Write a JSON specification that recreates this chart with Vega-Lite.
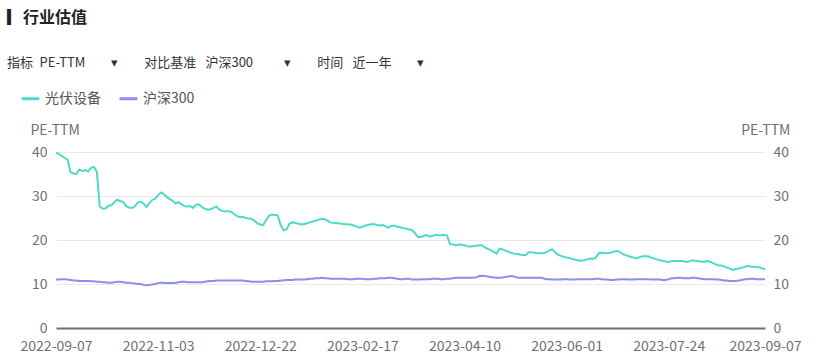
{
  "$schema": "https://vega.github.io/schema/vega-lite/v6.json",
  "width": 709,
  "height": 176,
  "autosize": {"type": "none"},
  "padding": {"left": 56, "top": 152, "right": 54, "bottom": 31},
  "background": "white",
  "config": {
    "font": "Noto Sans CJK SC",
    "view": {"stroke": null}
  },
  "title": {
    "text": "▎行业估值",
    "subtitle": "指标\u2002PE-TTM\u2003\u2003▾\u2003\u2003对比基准\u2002\u2009沪深300\u2003\u2003\u2009\u2009▾\u2003\u2003时间\u2002\u2009近一年\u2003\u2003▾",
    "anchor": "start",
    "frame": "group",
    "dx": -49,
    "offset": 18,
    "fontSize": 16,
    "fontWeight": "bold",
    "color": "#222222",
    "subtitleFontSize": 13,
    "subtitleColor": "#333333",
    "subtitlePadding": 31
  },
  "data": {
    "values": [
      {"d":"2022-09-07","a":39.9,"b":11.0},{"d":"2022-09-08","a":39.5,"b":11.0},{"d":"2022-09-09","a":39.1,"b":11.1},{"d":"2022-09-13","a":38.7,"b":11.1},{"d":"2022-09-14","a":38.2,"b":11.0},{"d":"2022-09-15","a":35.4,"b":10.9},{"d":"2022-09-16","a":35.1,"b":10.8},{"d":"2022-09-19","a":35.0,"b":10.8},{"d":"2022-09-20","a":36.0,"b":10.7},{"d":"2022-09-21","a":35.7,"b":10.7},
      {"d":"2022-09-22","a":35.9,"b":10.7},{"d":"2022-09-23","a":35.6,"b":10.7},{"d":"2022-09-26","a":36.4,"b":10.6},{"d":"2022-09-27","a":36.6,"b":10.6},{"d":"2022-09-28","a":35.5,"b":10.5},{"d":"2022-09-29","a":27.6,"b":10.5},{"d":"2022-09-30","a":27.1,"b":10.4},{"d":"2022-10-10","a":27.2,"b":10.4},{"d":"2022-10-11","a":27.8,"b":10.3},{"d":"2022-10-12","a":27.9,"b":10.3},
      {"d":"2022-10-13","a":28.6,"b":10.4},{"d":"2022-10-14","a":29.2,"b":10.5},{"d":"2022-10-17","a":28.8,"b":10.5},{"d":"2022-10-18","a":28.7,"b":10.4},{"d":"2022-10-19","a":27.7,"b":10.3},{"d":"2022-10-20","a":27.4,"b":10.3},{"d":"2022-10-21","a":27.3,"b":10.2},{"d":"2022-10-24","a":27.6,"b":10.1},{"d":"2022-10-25","a":28.5,"b":10.0},{"d":"2022-10-26","a":28.7,"b":10.0},
      {"d":"2022-10-27","a":28.3,"b":9.8},{"d":"2022-10-28","a":27.5,"b":9.7},{"d":"2022-10-31","a":28.4,"b":9.8},{"d":"2022-11-01","a":29.1,"b":9.9},{"d":"2022-11-02","a":29.4,"b":10.0},{"d":"2022-11-03","a":30.2,"b":10.2},{"d":"2022-11-04","a":30.8,"b":10.3},{"d":"2022-11-07","a":30.4,"b":10.3},{"d":"2022-11-08","a":29.8,"b":10.2},{"d":"2022-11-09","a":29.3,"b":10.2},
      {"d":"2022-11-10","a":28.9,"b":10.2},{"d":"2022-11-11","a":28.3,"b":10.3},{"d":"2022-11-14","a":28.6,"b":10.4},{"d":"2022-11-15","a":28.1,"b":10.5},{"d":"2022-11-16","a":27.7,"b":10.5},{"d":"2022-11-17","a":27.6,"b":10.4},{"d":"2022-11-18","a":27.7,"b":10.4},{"d":"2022-11-21","a":27.3,"b":10.4},{"d":"2022-11-22","a":28.0,"b":10.4},{"d":"2022-11-23","a":28.1,"b":10.4},
      {"d":"2022-11-24","a":27.5,"b":10.4},{"d":"2022-11-25","a":27.1,"b":10.5},{"d":"2022-11-28","a":26.9,"b":10.6},{"d":"2022-11-29","a":27.0,"b":10.7},{"d":"2022-11-30","a":27.3,"b":10.7},{"d":"2022-12-01","a":27.6,"b":10.8},{"d":"2022-12-02","a":26.9,"b":10.8},{"d":"2022-12-05","a":26.6,"b":10.8},{"d":"2022-12-06","a":26.5,"b":10.8},{"d":"2022-12-07","a":26.6,"b":10.8},
      {"d":"2022-12-08","a":26.4,"b":10.8},{"d":"2022-12-09","a":25.9,"b":10.8},{"d":"2022-12-12","a":25.5,"b":10.8},{"d":"2022-12-13","a":25.2,"b":10.8},{"d":"2022-12-14","a":25.3,"b":10.8},{"d":"2022-12-15","a":25.0,"b":10.7},{"d":"2022-12-16","a":24.9,"b":10.6},{"d":"2022-12-19","a":24.8,"b":10.5},{"d":"2022-12-20","a":24.4,"b":10.5},{"d":"2022-12-21","a":23.8,"b":10.5},
      {"d":"2022-12-22","a":23.5,"b":10.5},{"d":"2022-12-23","a":23.4,"b":10.5},{"d":"2022-12-26","a":24.5,"b":10.6},{"d":"2022-12-27","a":25.5,"b":10.6},{"d":"2022-12-28","a":25.8,"b":10.6},{"d":"2022-12-29","a":25.7,"b":10.7},{"d":"2022-12-30","a":25.6,"b":10.7},{"d":"2023-01-03","a":23.4,"b":10.8},{"d":"2023-01-04","a":22.2,"b":10.8},{"d":"2023-01-05","a":22.4,"b":10.9},
      {"d":"2023-01-06","a":23.7,"b":10.9},{"d":"2023-01-09","a":24.0,"b":10.9},{"d":"2023-01-10","a":23.9,"b":11.0},{"d":"2023-01-11","a":23.7,"b":11.0},{"d":"2023-01-12","a":23.6,"b":11.0},{"d":"2023-01-13","a":23.6,"b":11.0},{"d":"2023-01-16","a":23.8,"b":11.1},{"d":"2023-01-17","a":24.0,"b":11.2},{"d":"2023-01-18","a":24.2,"b":11.2},{"d":"2023-01-19","a":24.4,"b":11.3},
      {"d":"2023-01-20","a":24.6,"b":11.3},{"d":"2023-01-30","a":24.8,"b":11.4},{"d":"2023-01-31","a":24.8,"b":11.3},{"d":"2023-02-01","a":24.4,"b":11.3},{"d":"2023-02-02","a":24.0,"b":11.2},{"d":"2023-02-03","a":23.9,"b":11.2},{"d":"2023-02-06","a":23.8,"b":11.2},{"d":"2023-02-07","a":23.8,"b":11.2},{"d":"2023-02-08","a":23.7,"b":11.2},{"d":"2023-02-09","a":23.6,"b":11.2},
      {"d":"2023-02-10","a":23.6,"b":11.1},{"d":"2023-02-13","a":23.5,"b":11.1},{"d":"2023-02-14","a":23.3,"b":11.1},{"d":"2023-02-15","a":23.1,"b":11.2},{"d":"2023-02-16","a":22.8,"b":11.2},{"d":"2023-02-17","a":23.0,"b":11.2},{"d":"2023-02-20","a":23.3,"b":11.1},{"d":"2023-02-21","a":23.4,"b":11.1},{"d":"2023-02-22","a":23.6,"b":11.1},{"d":"2023-02-23","a":23.6,"b":11.2},
      {"d":"2023-02-24","a":23.4,"b":11.2},{"d":"2023-02-27","a":23.3,"b":11.3},{"d":"2023-02-28","a":23.4,"b":11.3},{"d":"2023-03-01","a":23.1,"b":11.3},{"d":"2023-03-02","a":22.8,"b":11.4},{"d":"2023-03-03","a":23.2,"b":11.4},{"d":"2023-03-06","a":23.3,"b":11.3},{"d":"2023-03-07","a":23.0,"b":11.2},{"d":"2023-03-08","a":22.9,"b":11.1},{"d":"2023-03-09","a":22.7,"b":11.1},
      {"d":"2023-03-10","a":22.6,"b":11.2},{"d":"2023-03-13","a":22.4,"b":11.2},{"d":"2023-03-14","a":22.3,"b":11.0},{"d":"2023-03-15","a":21.6,"b":11.0},{"d":"2023-03-16","a":20.7,"b":11.0},{"d":"2023-03-17","a":20.7,"b":11.0},{"d":"2023-03-20","a":20.9,"b":11.1},{"d":"2023-03-21","a":21.1,"b":11.1},{"d":"2023-03-22","a":20.8,"b":11.1},{"d":"2023-03-23","a":20.9,"b":11.2},
      {"d":"2023-03-24","a":21.2,"b":11.2},{"d":"2023-03-27","a":21.1,"b":11.2},{"d":"2023-03-28","a":21.1,"b":11.1},{"d":"2023-03-29","a":21.2,"b":11.1},{"d":"2023-03-30","a":21.0,"b":11.2},{"d":"2023-03-31","a":19.1,"b":11.2},{"d":"2023-04-03","a":19.0,"b":11.3},{"d":"2023-04-04","a":18.8,"b":11.4},{"d":"2023-04-06","a":18.9,"b":11.4},{"d":"2023-04-07","a":19.0,"b":11.4},
      {"d":"2023-04-10","a":18.8,"b":11.4},{"d":"2023-04-11","a":18.6,"b":11.4},{"d":"2023-04-12","a":18.5,"b":11.4},{"d":"2023-04-13","a":18.6,"b":11.4},{"d":"2023-04-14","a":18.7,"b":11.5},{"d":"2023-04-17","a":18.8,"b":11.8},{"d":"2023-04-18","a":18.8,"b":11.9},{"d":"2023-04-19","a":18.3,"b":11.8},{"d":"2023-04-20","a":18.0,"b":11.7},{"d":"2023-04-21","a":17.7,"b":11.6},
      {"d":"2023-04-24","a":17.3,"b":11.5},{"d":"2023-04-25","a":16.9,"b":11.4},{"d":"2023-04-26","a":18.0,"b":11.4},{"d":"2023-04-27","a":17.9,"b":11.5},{"d":"2023-04-28","a":17.6,"b":11.6},{"d":"2023-05-04","a":17.3,"b":11.7},{"d":"2023-05-05","a":17.1,"b":11.8},{"d":"2023-05-08","a":16.9,"b":11.7},{"d":"2023-05-09","a":16.8,"b":11.5},{"d":"2023-05-10","a":16.7,"b":11.4},
      {"d":"2023-05-11","a":16.6,"b":11.4},{"d":"2023-05-12","a":16.6,"b":11.4},{"d":"2023-05-15","a":17.2,"b":11.4},{"d":"2023-05-16","a":17.2,"b":11.4},{"d":"2023-05-17","a":17.1,"b":11.4},{"d":"2023-05-18","a":17.0,"b":11.4},{"d":"2023-05-19","a":17.0,"b":11.4},{"d":"2023-05-22","a":17.0,"b":11.3},{"d":"2023-05-23","a":17.2,"b":11.1},{"d":"2023-05-24","a":17.6,"b":11.1},
      {"d":"2023-05-25","a":17.9,"b":11.0},{"d":"2023-05-26","a":17.2,"b":11.0},{"d":"2023-05-29","a":16.7,"b":11.0},{"d":"2023-05-30","a":16.4,"b":11.0},{"d":"2023-05-31","a":16.2,"b":11.1},{"d":"2023-06-01","a":16.0,"b":11.1},{"d":"2023-06-02","a":15.9,"b":11.0},{"d":"2023-06-05","a":15.7,"b":11.0},{"d":"2023-06-06","a":15.5,"b":11.0},{"d":"2023-06-07","a":15.4,"b":11.1},
      {"d":"2023-06-08","a":15.3,"b":11.1},{"d":"2023-06-09","a":15.4,"b":11.1},{"d":"2023-06-12","a":15.6,"b":11.1},{"d":"2023-06-13","a":15.8,"b":11.1},{"d":"2023-06-14","a":15.7,"b":11.1},{"d":"2023-06-15","a":16.0,"b":11.2},{"d":"2023-06-16","a":17.0,"b":11.2},{"d":"2023-06-19","a":17.1,"b":11.1},{"d":"2023-06-20","a":17.1,"b":11.0},{"d":"2023-06-21","a":17.0,"b":11.0},
      {"d":"2023-06-26","a":17.1,"b":10.9},{"d":"2023-06-27","a":17.3,"b":10.9},{"d":"2023-06-28","a":17.5,"b":11.0},{"d":"2023-06-29","a":17.4,"b":11.0},{"d":"2023-06-30","a":16.9,"b":11.1},{"d":"2023-07-03","a":16.6,"b":11.1},{"d":"2023-07-04","a":16.4,"b":11.0},{"d":"2023-07-05","a":16.2,"b":11.0},{"d":"2023-07-06","a":16.0,"b":11.0},{"d":"2023-07-07","a":15.8,"b":11.1},
      {"d":"2023-07-10","a":16.1,"b":11.1},{"d":"2023-07-11","a":16.3,"b":11.1},{"d":"2023-07-12","a":16.3,"b":11.1},{"d":"2023-07-13","a":16.3,"b":11.1},{"d":"2023-07-14","a":16.0,"b":11.0},{"d":"2023-07-17","a":15.8,"b":11.0},{"d":"2023-07-18","a":15.6,"b":11.0},{"d":"2023-07-19","a":15.4,"b":11.0},{"d":"2023-07-20","a":15.3,"b":10.9},{"d":"2023-07-21","a":15.1,"b":10.9},
      {"d":"2023-07-24","a":15.0,"b":11.1},{"d":"2023-07-25","a":15.2,"b":11.3},{"d":"2023-07-26","a":15.3,"b":11.3},{"d":"2023-07-27","a":15.2,"b":11.4},{"d":"2023-07-28","a":15.2,"b":11.4},{"d":"2023-07-31","a":15.2,"b":11.3},{"d":"2023-08-01","a":15.0,"b":11.3},{"d":"2023-08-02","a":15.1,"b":11.3},{"d":"2023-08-03","a":15.4,"b":11.4},{"d":"2023-08-04","a":15.3,"b":11.4},
      {"d":"2023-08-07","a":15.2,"b":11.3},{"d":"2023-08-08","a":15.1,"b":11.2},{"d":"2023-08-09","a":15.0,"b":11.1},{"d":"2023-08-10","a":15.2,"b":11.1},{"d":"2023-08-11","a":15.1,"b":11.1},{"d":"2023-08-14","a":14.8,"b":11.1},{"d":"2023-08-15","a":14.5,"b":11.0},{"d":"2023-08-16","a":14.2,"b":11.0},{"d":"2023-08-17","a":14.2,"b":10.9},{"d":"2023-08-18","a":14.0,"b":10.8},
      {"d":"2023-08-21","a":13.7,"b":10.8},{"d":"2023-08-22","a":13.5,"b":10.7},{"d":"2023-08-23","a":13.2,"b":10.7},{"d":"2023-08-24","a":13.4,"b":10.7},{"d":"2023-08-25","a":13.5,"b":10.8},{"d":"2023-08-28","a":13.7,"b":10.9},{"d":"2023-08-29","a":13.9,"b":11.1},{"d":"2023-08-30","a":14.1,"b":11.1},{"d":"2023-08-31","a":14.0,"b":11.2},{"d":"2023-09-01","a":13.9,"b":11.2},
      {"d":"2023-09-04","a":13.8,"b":11.1},{"d":"2023-09-05","a":13.8,"b":11.1},{"d":"2023-09-06","a":13.6,"b":11.1},{"d":"2023-09-07","a":13.3,"b":11.1}
    ]
  },
  "encoding": {
    "x": {
      "field": "d",
      "type": "ordinal",
      "sort": null,
      "scale": {"type": "point", "padding": 0},
      "axis": {
        "title": null,
        "values": ["2022-09-07","2022-11-03","2022-12-22","2023-02-17","2023-04-10","2023-06-01","2023-07-24","2023-09-07"],
        "labelAngle": 0,
        "labelOverlap": false,
        "labelFontSize": 14,
        "labelColor": "#6E7079",
        "labelPadding": 11,
        "ticks": false,
        "grid": false,
        "domainColor": "#6E7079",
        "domainWidth": 2
      }
    }
  },
  "layer": [
    {
      "mark": {"type": "line", "strokeWidth": 2, "interpolate": "linear"},
      "encoding": {
        "y": {
          "field": "a",
          "type": "quantitative",
          "scale": {"domain": [0, 40], "nice": false},
          "axis": {
            "orient": "left",
            "values": [0, 10, 20, 30, 40],
            "title": "PE-TTM",
            "titleAngle": 0,
            "titleAlign": "left",
            "titleBaseline": "middle",
            "titleX": -26,
            "titleY": -22,
            "titleFontSize": 14,
            "titleFontWeight": "normal",
            "titleColor": "#6E7079",
            "labelFontSize": 14,
            "labelColor": "#6E7079",
            "labelPadding": 9,
            "ticks": false,
            "domain": false,
            "grid": true,
            "gridColor": "#E9E9EE",
            "gridWidth": 1
          }
        },
        "color": {
          "datum": "光伏设备",
          "type": "nominal",
          "scale": {"domain": ["光伏设备", "沪深300"], "range": ["#4FDAC6", "#8A8DF2"]},
          "legend": {
            "title": null,
            "orient": "none",
            "direction": "horizontal",
            "legendX": -36,
            "legendY": -64,
            "symbolType": "stroke",
            "symbolStrokeWidth": 3,
            "symbolSize": 320,
            "labelFontSize": 14,
            "labelColor": "#555555",
            "columnPadding": 12
          }
        }
      }
    },
    {
      "mark": {"type": "line", "strokeWidth": 2, "interpolate": "linear"},
      "encoding": {
        "y": {
          "field": "b",
          "type": "quantitative",
          "scale": {"domain": [0, 40], "nice": false},
          "axis": {
            "orient": "right",
            "values": [0, 10, 20, 30, 40],
            "title": "PE-TTM",
            "titleAngle": 0,
            "titleAlign": "right",
            "titleBaseline": "middle",
            "titleX": 25,
            "titleY": -22,
            "titleFontSize": 14,
            "titleFontWeight": "normal",
            "titleColor": "#6E7079",
            "labelFontSize": 14,
            "labelColor": "#6E7079",
            "labelPadding": 8,
            "ticks": false,
            "domain": false,
            "grid": false
          }
        },
        "color": {"datum": "沪深300", "type": "nominal"}
      }
    }
  ],
  "resolve": {"scale": {"y": "independent"}}
}
